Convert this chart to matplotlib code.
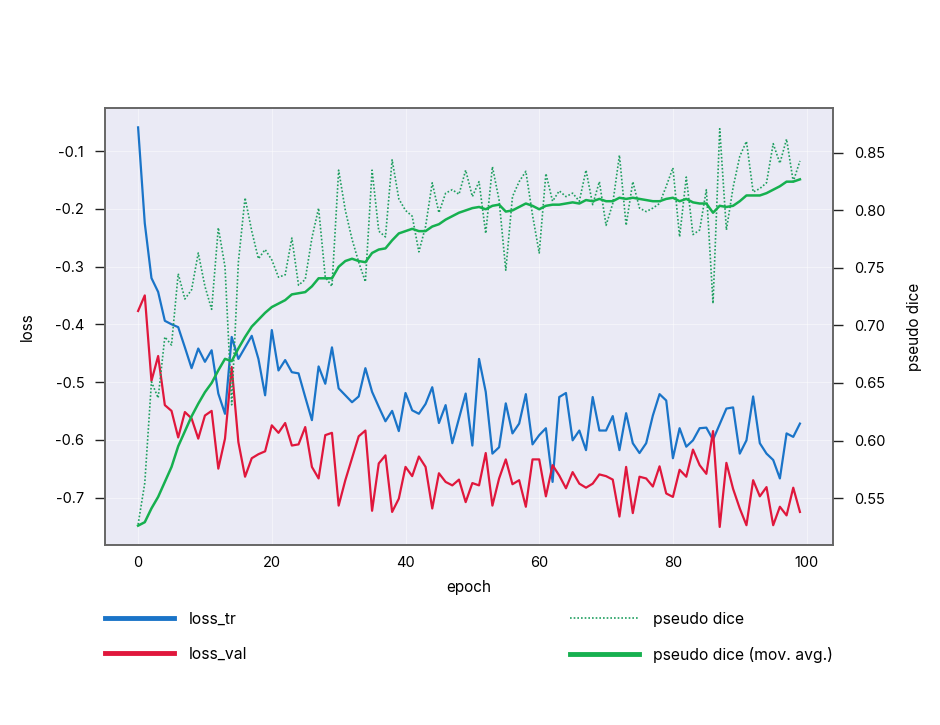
import matplotlib
matplotlib.use("Agg")
from matplotlib import pyplot as plt

plt.rcParams['font.family'] = ['Inter', 'DejaVu Sans']
plt.rcParams['axes.unicode_minus'] = False

epochs = list(range(100))

loss_tr = [
    -0.059, -0.225, -0.320, -0.344, -0.394, -0.400, -0.405, -0.440, -0.476, -0.442,
    -0.465, -0.445, -0.520, -0.555, -0.422, -0.460, -0.440, -0.420, -0.460, -0.523,
    -0.410, -0.480, -0.462, -0.483, -0.485, -0.526, -0.566, -0.473, -0.503, -0.440,
    -0.511, -0.523, -0.535, -0.525, -0.476, -0.517, -0.543, -0.568, -0.550, -0.585,
    -0.519, -0.549, -0.555, -0.538, -0.509, -0.571, -0.540, -0.606, -0.563, -0.520,
    -0.610, -0.460, -0.517, -0.624, -0.613, -0.537, -0.589, -0.572, -0.521, -0.608,
    -0.592, -0.580, -0.673, -0.526, -0.519, -0.601, -0.584, -0.618, -0.526, -0.584,
    -0.584, -0.559, -0.618, -0.554, -0.606, -0.623, -0.606, -0.558, -0.521, -0.532,
    -0.632, -0.580, -0.612, -0.601, -0.580, -0.579, -0.600, -0.573, -0.546, -0.544,
    -0.624, -0.601, -0.525, -0.606, -0.624, -0.635, -0.667, -0.589, -0.595, -0.572,
]

loss_val = [
    -0.377, -0.350, -0.498, -0.455, -0.540, -0.550, -0.596, -0.552, -0.563, -0.598,
    -0.558, -0.550, -0.650, -0.598, -0.474, -0.604, -0.664, -0.632, -0.625, -0.620,
    -0.575, -0.588, -0.571, -0.610, -0.608, -0.578, -0.647, -0.667, -0.592, -0.588,
    -0.714, -0.670, -0.632, -0.594, -0.584, -0.723, -0.641, -0.627, -0.725, -0.702,
    -0.647, -0.663, -0.629, -0.647, -0.719, -0.658, -0.673, -0.679, -0.669, -0.708,
    -0.675, -0.679, -0.623, -0.714, -0.667, -0.634, -0.677, -0.670, -0.716, -0.634,
    -0.634, -0.698, -0.644, -0.662, -0.684, -0.656, -0.676, -0.683, -0.676, -0.660,
    -0.663, -0.669, -0.733, -0.647, -0.727, -0.664, -0.667, -0.681, -0.646, -0.693,
    -0.699, -0.652, -0.664, -0.617, -0.644, -0.659, -0.585, -0.751, -0.640, -0.685,
    -0.719, -0.748, -0.670, -0.698, -0.682, -0.748, -0.716, -0.731, -0.683, -0.725,
]

pseudo_dice = [
    0.527, 0.563, 0.651, 0.637, 0.690, 0.683, 0.745, 0.723, 0.731, 0.763,
    0.734, 0.714, 0.785, 0.751, 0.631, 0.755, 0.811, 0.782, 0.758, 0.766,
    0.757, 0.742, 0.744, 0.776, 0.735, 0.740, 0.776, 0.802, 0.742, 0.734,
    0.835, 0.800, 0.775, 0.755, 0.738, 0.835, 0.782, 0.777, 0.844, 0.810,
    0.800, 0.795, 0.764, 0.786, 0.824, 0.798, 0.815, 0.818, 0.814, 0.835,
    0.812, 0.825, 0.780, 0.838, 0.809, 0.748, 0.812, 0.825, 0.834, 0.796,
    0.763, 0.832, 0.808, 0.817, 0.812, 0.815, 0.808, 0.835, 0.805, 0.825,
    0.787, 0.806, 0.848, 0.787, 0.825, 0.802, 0.799, 0.802, 0.806, 0.821,
    0.837, 0.777, 0.829, 0.779, 0.783, 0.818, 0.719, 0.871, 0.783, 0.820,
    0.847, 0.860, 0.816, 0.819, 0.824, 0.858, 0.841, 0.862, 0.825, 0.843,
]

pseudo_dice_ma = [
    0.526, 0.529, 0.541, 0.551, 0.564, 0.577, 0.595, 0.608, 0.621, 0.632,
    0.642, 0.650, 0.661, 0.671, 0.669, 0.680, 0.690, 0.699, 0.705, 0.711,
    0.716, 0.719, 0.722, 0.727, 0.728, 0.729, 0.734, 0.741, 0.741, 0.741,
    0.751, 0.756, 0.758, 0.756, 0.755, 0.763, 0.766, 0.767, 0.774, 0.780,
    0.782, 0.784, 0.782, 0.782, 0.786, 0.788, 0.792, 0.795, 0.798, 0.800,
    0.802, 0.803, 0.801, 0.804, 0.805, 0.799, 0.800, 0.803, 0.806, 0.804,
    0.801, 0.804, 0.805, 0.805, 0.806, 0.807, 0.806, 0.809, 0.808, 0.810,
    0.808, 0.808, 0.811, 0.810, 0.811, 0.810, 0.809, 0.808, 0.808, 0.810,
    0.811, 0.808, 0.810, 0.807, 0.806, 0.806, 0.798, 0.804, 0.803, 0.804,
    0.808, 0.813, 0.813, 0.813, 0.815, 0.818, 0.821, 0.825, 0.825, 0.827,
]

BLUE = '#1a74c8'
RED = '#e0173c'
GREEN = '#16b04f'
GREEN_DOT = '#1f9f60'

fig = plt.figure(figsize=(9.4, 7.25), dpi=100)
ax = fig.add_axes([0.1117, 0.248, 0.7745, 0.603])
ax.set_facecolor('#eaeaf5')
ax2 = ax.twinx()

l1, = ax.plot(epochs, loss_tr, color=BLUE, lw=1.6, label='loss_tr')
l2, = ax.plot(epochs, loss_val, color=RED, lw=1.6, label='loss_val')
l3, = ax2.plot(epochs, pseudo_dice, color=GREEN_DOT, lw=1.2, ls=(0, (1, 1.2)), label='pseudo dice')
l4, = ax2.plot(epochs, pseudo_dice_ma, color=GREEN, lw=1.8, label='pseudo dice (mov. avg.)')

ax.set_ylim(-0.7826, -0.0255)
ax2.set_ylim(0.509, 0.889)
ax.set_yticks([-0.7, -0.6, -0.5, -0.4, -0.3, -0.2, -0.1])
ax2.set_yticks([0.55, 0.60, 0.65, 0.70, 0.75, 0.80, 0.85])
ax2.set_yticklabels(['0.55', '0.60', '0.65', '0.70', '0.75', '0.80', '0.85'])
ax.set_xticks([0, 20, 40, 60, 80, 100])

ax.grid(True, color='white', lw=0.8, alpha=0.45)
ax.set_axisbelow(True)
for a in (ax, ax2):
    for s in a.spines.values():
        s.set_color('#666666')
        s.set_linewidth(1.2)
    a.tick_params(axis='y', length=7, width=1, color='#222222', labelsize=10.5, pad=8)
ax.tick_params(axis='x', length=0, labelsize=10.5, pad=8)

ax.set_xlabel('epoch', fontsize=11, labelpad=7)
ax.set_ylabel('loss', fontsize=11, labelpad=14)
ax2.set_ylabel('pseudo dice', fontsize=11, labelpad=16)

leg = fig.legend(handles=[l1, l2, l3, l4], loc='upper left',
                 bbox_to_anchor=(0.1117, 0.0, 0.775, 0.156), mode='expand',
                 ncol=2, frameon=False, fontsize=11.3, handlelength=4.4,
                 handletextpad=0.95, labelspacing=1.27, borderaxespad=0, borderpad=0)
for line in leg.get_lines():
    if line.get_label() != 'pseudo dice':
        line.set_linewidth(3.5)

plt.savefig('out.png', dpi=100)
